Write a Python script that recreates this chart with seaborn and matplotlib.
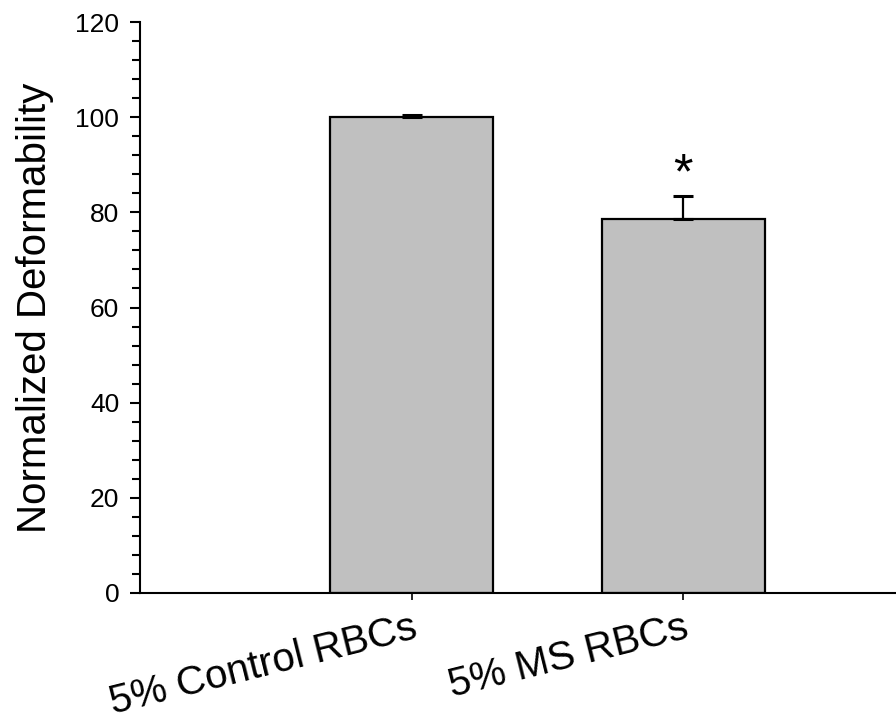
import matplotlib
matplotlib.use("Agg")
import matplotlib.pyplot as plt
from matplotlib.ticker import MultipleLocator
import seaborn as sns
import pandas as pd

# Group means and upper standard errors
categories = ["5% Control RBCs", "5% MS RBCs"]
means = [100.0, 78.7]
errors = [0.45, 4.75]
significance = ["", "*"]

sns.set_theme(style="white")
plt.rcParams["font.family"] = ["Liberation Sans", "DejaVu Sans"]
plt.rcParams.update({"text.color": "black", "axes.labelcolor": "black",
                     "xtick.color": "black", "ytick.color": "black"})

df = pd.DataFrame({"group": categories, "deformability": means})

fig = plt.figure(figsize=(8.96, 7.23), dpi=100)
ax = fig.add_axes([140 / 896, 130 / 723, 756 / 896, 571 / 723])

sns.barplot(data=df, x="group", y="deformability", color="#c0c0c0",
            saturation=1, edgecolor="black", linewidth=1.6, width=0.6,
            errorbar=None, ax=ax)

# Upper-only error bars
ax.errorbar(range(len(categories)), means,
            yerr=[[0] * len(errors), errors], fmt="none",
            ecolor="black", elinewidth=1.6, capsize=7, capthick=2.2)

for i, (m, e, s) in enumerate(zip(means, errors, significance)):
    if s:
        ax.text(i, m + e + 1.6, s, ha="center", va="baseline",
                fontsize=36, color="black")

ax.set_xlim(-1.0, 1.783)
ax.set_ylim(0, 120)
ax.yaxis.set_major_locator(MultipleLocator(20))
ax.yaxis.set_minor_locator(MultipleLocator(4))

sns.despine(ax=ax)
for side in ("left", "bottom"):
    ax.spines[side].set_linewidth(1.5)
    ax.spines[side].set_color("black")

ax.tick_params(axis="y", which="major", direction="out", length=7,
               width=1.5, left=True, labelsize=19, pad=8)
ax.tick_params(axis="y", which="minor", direction="out", length=5.5,
               width=1.5, left=True)
ax.tick_params(axis="x", which="major", direction="out", length=5,
               width=1.2, bottom=True, labelsize=29, pad=6)

ax.set_xlabel("")
ax.set_ylabel("Normalized Deformability", fontsize=29, labelpad=15)
plt.setp(ax.get_xticklabels(), rotation=14, ha="right", va="top",
         rotation_mode="anchor")

fig.savefig("out.png", dpi=100)
